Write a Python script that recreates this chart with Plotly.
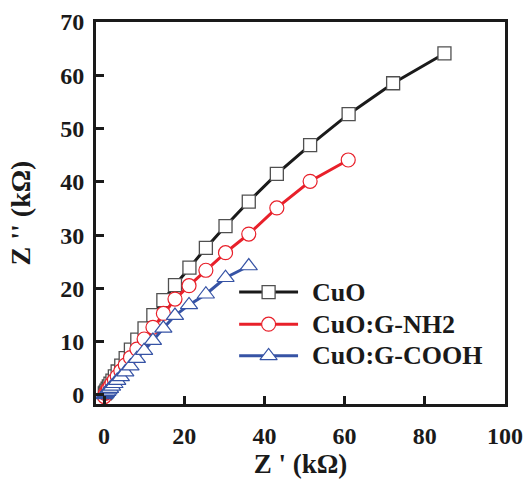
import plotly.graph_objects as go

# Nyquist data (real part Z', imaginary part Z'', both in kOhm)
cuo_x = [0.2, 0.4, 0.6, 0.9, 1.2, 1.6, 2.1, 2.7, 3.4, 4.3, 5.4, 6.7, 8.3, 10.1,
         12.3, 14.8, 17.7, 21.3, 25.4, 30.3, 36.1, 43.1, 51.4, 61.0, 72.1, 84.9]
cuo_y = [0.3, 0.5, 0.8, 1.2, 1.6, 2.1, 2.7, 3.5, 4.4, 5.5, 6.9, 8.5, 10.4, 12.5,
         15.0, 17.8, 20.6, 23.9, 27.6, 31.7, 36.3, 41.5, 46.9, 52.7, 58.5, 64.1]

nh2_x = [0.1, 0.3, 0.5, 0.8, 1.1, 1.5, 2.0, 2.6, 3.3, 4.2, 5.3, 6.6, 8.2, 10.0,
         12.2, 14.8, 17.7, 21.2, 25.4, 30.3, 36.1, 43.1, 51.4, 60.9]
nh2_y = [-0.3, 0.3, 0.5, 0.9, 1.2, 1.6, 2.2, 2.8, 3.5, 4.5, 5.6, 7.0, 8.6, 10.5,
         12.7, 15.3, 18.0, 20.5, 23.4, 26.7, 30.2, 35.1, 40.1, 44.1]

cooh_x = [0.1, 0.3, 0.5, 0.8, 1.1, 1.5, 2.0, 2.6, 3.3, 4.2, 5.3, 6.6, 8.2, 10.0,
          12.2, 14.8, 17.7, 21.2, 25.4, 30.3, 36.1]
cooh_y = [0.0, 0.2, 0.4, 0.6, 0.9, 1.2, 1.6, 2.1, 2.7, 3.4, 4.3, 5.4, 6.8, 8.3,
          10.2, 12.5, 14.9, 16.9, 18.9, 22.0, 24.2]

names = ["CuO", "CuO:G-NH2", "CuO:G-COOH"]
x_ticks = [0, 20, 40, 60, 80, 100]
y_ticks = [0, 10, 20, 30, 40, 50, 60, 70]

FONT = "Liberation Serif, Times New Roman, serif"

styles = [
    dict(line=dict(color="#1a1a1a", width=3),
         marker=dict(symbol="square", size=13, color="white",
                     line=dict(color="#505050", width=1.3))),
    dict(line=dict(color="#e8202a", width=3),
         marker=dict(symbol="circle", size=14, color="white",
                     line=dict(color="#e8202a", width=1.2))),
    dict(line=dict(color="#3653a5", width=3),
         marker=dict(symbol="triangle-up", size=15, color="white",
                     line=dict(color="#3653a5", width=1.2))),
]

fig = go.Figure()
for xs, ys, name, st in zip([cuo_x, nh2_x, cooh_x], [cuo_y, nh2_y, cooh_y], names, styles):
    fig.add_trace(go.Scatter(x=xs, y=ys, mode="lines+markers", name=name,
                             showlegend=False, cliponaxis=False, **st))

# Legend drawn on an overlay axis spanning the plot area (0..1 in both directions)
leg_x0, leg_x1, leg_xt = 0.350, 0.494, 0.524
leg_rows = [0.293, 0.209, 0.126]
for name, st, ry in zip(names, styles, leg_rows):
    fig.add_trace(go.Scatter(x=[leg_x0, leg_x1], y=[ry, ry], mode="lines",
                             line=st["line"], xaxis="x2", yaxis="y2",
                             showlegend=False, hoverinfo="skip"))
    fig.add_trace(go.Scatter(x=[(leg_x0 + leg_x1) / 2], y=[ry], mode="markers",
                             marker=st["marker"], xaxis="x2", yaxis="y2",
                             showlegend=False, hoverinfo="skip"))
    fig.add_annotation(x=leg_xt, y=ry, xref="x2", yref="y2", text=name,
                       showarrow=False, xanchor="left", yanchor="middle",
                       font=dict(family=FONT, size=26, color="#1a1a1a", weight="bold"))

axis_common = dict(
    showline=True, linecolor="#1a1a1a", linewidth=3, mirror=True,
    ticks="inside", ticklen=8, tickwidth=3, tickcolor="#1a1a1a",
    showgrid=False, zeroline=False, automargin=False,
    tickfont=dict(family=FONT, size=24, color="#1a1a1a", weight="bold"),
)

fig.update_layout(
    width=526, height=479,
    margin=dict(l=96, r=21, t=22, b=75),
    plot_bgcolor="white", paper_bgcolor="white",
    xaxis=dict(range=[-2, 100], tickvals=x_ticks, ticklabelstandoff=8,
               title=dict(text="Z ' (kΩ)", standoff=10,
                          font=dict(family=FONT, size=27, color="#1a1a1a", weight="bold")),
               **axis_common),
    yaxis=dict(range=[-1.7, 70], tickvals=y_ticks, ticklabelstandoff=4,
               title=dict(text="Z '' (kΩ)", standoff=22,
                          font=dict(family=FONT, size=28, color="#1a1a1a", weight="bold")),
               **axis_common),
    xaxis2=dict(range=[0, 1], overlaying="x", visible=False, fixedrange=True),
    yaxis2=dict(range=[0, 1], overlaying="y", visible=False, fixedrange=True),
    showlegend=False,
)

fig.write_html("out.html")
